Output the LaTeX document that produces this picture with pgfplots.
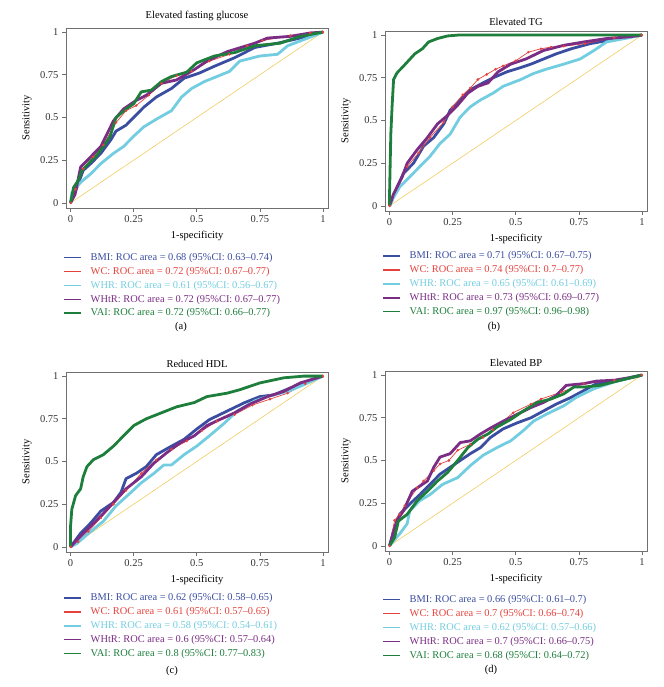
\documentclass[border=0pt]{standalone}
\usepackage{fontspec}
\setmainfont{Liberation Serif}
\usepackage{pgfplots}
\pgfplotsset{compat=1.18}

\definecolor{bmi}{HTML}{3B4DA0}
\definecolor{wc}{HTML}{E5423D}
\definecolor{whr}{HTML}{72CDE0}
\definecolor{whtr}{HTML}{7B2D85}
\definecolor{vai}{HTML}{1E7E3C}
\definecolor{refcol}{HTML}{F0CC60}
\definecolor{framecol}{HTML}{707070}

\tikzset{
  bmil/.style={color=bmi, line width=2.8pt, line join=round},
  wcl/.style={color=wc, line width=0.7pt},
  whrl/.style={color=whr, line width=2.8pt, line join=round},
  whtrl/.style={color=whtr, line width=2.8pt, line join=round},
  vail/.style={color=vai, line width=2.8pt, line join=round},
}

\pgfplotsset{
  every axis title shift=0pt,
  rocax/.style={
    width=262pt, height=180pt, scale only axis,
    xmin=-0.018, xmax=1.02, ymin=-0.03, ymax=1.024,
    xtick={0,0.25,0.5,0.75,1}, ytick={0,0.25,0.5,0.75,1},
    xtick pos=bottom, ytick pos=left, tick align=outside,
    major tick length=4pt,
    axis line style={framecol, line width=0.6pt},
    every tick/.style={framecol, line width=0.6pt},
    /pgf/number format/assume math mode=true,
    tick label style={font=\fontsize{10.5}{12}\selectfont, color=black!80},
    xlabel={1-specificity}, ylabel={Sensitivity},
    xlabel style={at={(axis description cs:0.5,0)}, anchor=base, yshift=-30pt, font=\fontsize{10.5}{12}\selectfont},
    ylabel style={at={(axis description cs:-0.149,0.5)}, anchor=center, font=\fontsize{10.5}{12}\selectfont},
    title style={at={(axis description cs:0.5,1)}, anchor=base, yshift=5pt, font=\fontsize{10.5}{12}\selectfont},
    legend style={draw=none, fill=none, anchor=north west, inner sep=0pt,
      font=\fontsize{10.4}{12}\selectfont, row sep=3.3pt,
      nodes={inner xsep=2pt, inner ysep=0pt, text height=8pt, text depth=2.6pt}},
    legend cell align=left,
    legend image code/.code={\draw[#1, line width=1.5pt] (0pt,0pt) -- (17pt,0pt); \path (23pt,0pt);},
  },
  wcmark/.style={mark=*, mark size=0.9pt, mark options={fill=wc, draw=wc}},
  refline/.style={refcol, line width=0.6pt, forget plot},
}

\begin{document}
\begin{tikzpicture}
\path[use as bounding box] (0pt,0pt) rectangle (663pt,-687pt);

% (a)
\begin{axis}[rocax, at={(66pt,-28pt)}, anchor=north west,
  title={Elevated fasting glucose}, title style={yshift=4.5pt},
  legend style={at={(axis description cs:-0.01,-0.245)}}]
\addplot[refline] coordinates {(0,0) (1,1)};
\addplot[bmil] coordinates {(0,0) (0.025,0.09) (0.05,0.19) (0.08,0.23) (0.12,0.29) (0.16,0.37) (0.18,0.42) (0.22,0.455) (0.25,0.50) (0.29,0.56) (0.34,0.62) (0.40,0.67) (0.45,0.73) (0.51,0.76) (0.57,0.80) (0.65,0.85) (0.73,0.91) (0.82,0.935) (0.91,0.965) (1,1)};
\addlegendentry{\textcolor{bmi}{BMI: ROC area = 0.68 (95\%CI: 0.63--0.74)}}
\addplot[wcl, wcmark] coordinates {(0,0) (0.02,0.08) (0.05,0.2) (0.09,0.27) (0.13,0.34) (0.18,0.47) (0.22,0.54) (0.26,0.57) (0.31,0.63) (0.36,0.70) (0.42,0.745) (0.48,0.77) (0.55,0.83) (0.63,0.87) (0.70,0.92) (0.76,0.95) (0.87,0.98) (0.95,0.995) (1,1)};
\addlegendentry{\textcolor{wc}{WC: ROC area = 0.72 (95\%CI: 0.67--0.77)}}
\addplot[whrl] coordinates {(0,0) (0.005,0.06) (0.04,0.12) (0.08,0.17) (0.12,0.23) (0.17,0.29) (0.21,0.33) (0.25,0.39) (0.29,0.445) (0.34,0.49) (0.40,0.54) (0.44,0.62) (0.48,0.67) (0.53,0.71) (0.58,0.74) (0.63,0.77) (0.67,0.83) (0.75,0.86) (0.82,0.87) (0.86,0.92) (0.94,0.965) (1,1)};
\addlegendentry{\textcolor{whr}{WHR: ROC area = 0.61 (95\%CI: 0.56--0.67)}}
\addplot[whtrl] coordinates {(0,0) (0.018,0.05) (0.04,0.21) (0.08,0.27) (0.12,0.33) (0.17,0.48) (0.21,0.55) (0.26,0.60) (0.30,0.63) (0.36,0.70) (0.42,0.72) (0.49,0.78) (0.54,0.83) (0.62,0.885) (0.73,0.935) (0.78,0.965) (0.87,0.975) (0.95,0.995) (1,1)};
\addlegendentry{\textcolor{whtr}{WHtR: ROC area = 0.72 (95\%CI: 0.67--0.77)}}
\addplot[vail] coordinates {(0,0) (0.012,0.09) (0.03,0.13) (0.045,0.19) (0.065,0.22) (0.105,0.28) (0.13,0.33) (0.157,0.39) (0.18,0.5) (0.22,0.55) (0.25,0.58) (0.28,0.65) (0.32,0.66) (0.36,0.71) (0.40,0.74) (0.46,0.765) (0.50,0.82) (0.57,0.86) (0.65,0.88) (0.73,0.92) (0.83,0.935) (0.91,0.975) (1,1)};
\addlegendentry{\textcolor{vai}{VAI: ROC area = 0.72 (95\%CI: 0.66--0.77)}}
\end{axis}

% (b)
\begin{axis}[rocax, at={(385pt,-31pt)}, anchor=north west,
  title={Elevated TG},
  legend style={at={(axis description cs:-0.01,-0.22)}}]
\addplot[refline] coordinates {(0,0) (1,1)};
\addplot[bmil] coordinates {(0,0) (0.03,0.11) (0.055,0.19) (0.095,0.25) (0.135,0.35) (0.175,0.40) (0.215,0.48) (0.24,0.56) (0.28,0.62) (0.32,0.68) (0.37,0.72) (0.41,0.75) (0.465,0.785) (0.52,0.81) (0.56,0.83) (0.61,0.86) (0.66,0.89) (0.72,0.92) (0.795,0.95) (0.89,0.975) (1,1)};
\addlegendentry{\textcolor{bmi}{BMI: ROC area = 0.71 (95\%CI: 0.67--0.75)}}
\addplot[wcl, wcmark] coordinates {(0,0) (0.07,0.23) (0.115,0.31) (0.16,0.40) (0.215,0.49) (0.25,0.58) (0.29,0.65) (0.32,0.69) (0.35,0.74) (0.385,0.77) (0.42,0.80) (0.45,0.82) (0.50,0.85) (0.55,0.90) (0.60,0.92) (0.64,0.93) (0.69,0.935) (0.775,0.95) (0.89,0.985) (1,1)};
\addlegendentry{\textcolor{wc}{WC: ROC area = 0.74 (95\%CI: 0.7--0.77)}}
\addplot[whrl] coordinates {(0,0) (0.016,0.05) (0.04,0.11) (0.08,0.17) (0.12,0.23) (0.16,0.29) (0.2,0.365) (0.24,0.42) (0.28,0.52) (0.32,0.58) (0.36,0.62) (0.41,0.66) (0.45,0.70) (0.52,0.74) (0.57,0.775) (0.62,0.80) (0.69,0.83) (0.755,0.86) (0.81,0.91) (0.86,0.96) (0.95,0.985) (1,1)};
\addlegendentry{\textcolor{whr}{WHR: ROC area = 0.65 (95\%CI: 0.61--0.69)}}
\addplot[whtrl] coordinates {(0,0) (0.016,0.07) (0.03,0.11) (0.05,0.17) (0.07,0.25) (0.11,0.33) (0.15,0.40) (0.19,0.48) (0.23,0.53) (0.27,0.59) (0.31,0.66) (0.35,0.70) (0.39,0.72) (0.43,0.785) (0.48,0.83) (0.54,0.86) (0.61,0.91) (0.69,0.94) (0.77,0.96) (0.86,0.98) (0.95,0.99) (1,1)};
\addlegendentry{\textcolor{whtr}{WHtR: ROC area = 0.73 (95\%CI: 0.69--0.77)}}
\addplot[vail] coordinates {(0,0) (0,0.07) (0.005,0.42) (0.01,0.58) (0.016,0.74) (0.03,0.78) (0.05,0.81) (0.075,0.85) (0.10,0.89) (0.13,0.92) (0.155,0.96) (0.19,0.98) (0.23,0.995) (0.27,1) (1,1)};
\addlegendentry{\textcolor{vai}{VAI: ROC area = 0.97 (95\%CI: 0.96--0.98)}}
\end{axis}

% (c)
\begin{axis}[rocax, at={(66pt,-372pt)}, anchor=north west,
  title={Reduced HDL},
  legend style={at={(axis description cs:-0.01,-0.225)}}]
\addplot[refline] coordinates {(0,0) (1,1)};
\addplot[bmil] coordinates {(0,0) (0.04,0.08) (0.08,0.14) (0.12,0.21) (0.17,0.26) (0.20,0.32) (0.22,0.40) (0.26,0.43) (0.30,0.47) (0.34,0.54) (0.40,0.59) (0.45,0.63) (0.50,0.69) (0.55,0.745) (0.62,0.795) (0.69,0.845) (0.75,0.88) (0.805,0.89) (0.87,0.93) (0.94,0.97) (1,1)};
\addlegendentry{\textcolor{bmi}{BMI: ROC area = 0.62 (95\%CI: 0.58--0.65)}}
\addplot[wcl, wcmark] coordinates {(0,0) (0.03,0.03) (0.07,0.09) (0.12,0.17) (0.17,0.25) (0.22,0.33) (0.28,0.43) (0.34,0.51) (0.40,0.57) (0.46,0.62) (0.52,0.68) (0.58,0.735) (0.65,0.775) (0.72,0.83) (0.79,0.865) (0.86,0.90) (0.93,0.955) (1,1)};
\addlegendentry{\textcolor{wc}{WC: ROC area = 0.61 (95\%CI: 0.57--0.65)}}
\addplot[whrl] coordinates {(0,0) (0.025,0.02) (0.08,0.09) (0.13,0.15) (0.18,0.24) (0.24,0.32) (0.28,0.375) (0.33,0.43) (0.37,0.48) (0.40,0.48) (0.45,0.54) (0.50,0.59) (0.55,0.65) (0.61,0.725) (0.66,0.795) (0.73,0.855) (0.79,0.885) (0.86,0.91) (0.925,0.95) (1,1)};
\addlegendentry{\textcolor{whr}{WHR: ROC area = 0.58 (95\%CI: 0.54--0.61)}}
\addplot[whtrl] coordinates {(0,0) (0.025,0.04) (0.065,0.10) (0.12,0.18) (0.17,0.26) (0.22,0.34) (0.28,0.41) (0.33,0.49) (0.38,0.55) (0.435,0.61) (0.49,0.65) (0.54,0.71) (0.59,0.745) (0.65,0.785) (0.71,0.835) (0.78,0.88) (0.845,0.91) (0.91,0.96) (1,1)};
\addlegendentry{\textcolor{whtr}{WHtR: ROC area = 0.6 (95\%CI: 0.57--0.64)}}
\addplot[vail] coordinates {(0,0) (0,0.12) (0.005,0.22) (0.02,0.30) (0.04,0.34) (0.05,0.41) (0.065,0.47) (0.09,0.51) (0.13,0.54) (0.17,0.59) (0.21,0.65) (0.25,0.71) (0.30,0.75) (0.36,0.785) (0.42,0.82) (0.49,0.845) (0.54,0.88) (0.62,0.90) (0.67,0.92) (0.75,0.96) (0.845,0.99) (0.925,1) (1,1)};
\addlegendentry{\textcolor{vai}{VAI: ROC area = 0.8 (95\%CI: 0.77--0.83)}}
\end{axis}

% (d)
\begin{axis}[rocax, at={(385pt,-371pt)}, anchor=north west,
  title={Elevated BP},
  legend style={at={(axis description cs:-0.01,-0.24)}}]
\addplot[refline] coordinates {(0,0) (1,1)};
\addplot[bmil] coordinates {(0,0) (0.016,0.09) (0.04,0.185) (0.08,0.245) (0.12,0.30) (0.16,0.36) (0.20,0.42) (0.24,0.46) (0.28,0.50) (0.32,0.54) (0.36,0.575) (0.40,0.635) (0.45,0.685) (0.505,0.72) (0.56,0.75) (0.61,0.79) (0.66,0.83) (0.72,0.87) (0.77,0.91) (0.82,0.95) (0.90,0.965) (1,1)};
\addlegendentry{\textcolor{bmi}{BMI: ROC area = 0.66 (95\%CI: 0.61--0.7)}}
\addplot[wcl, wcmark] coordinates {(0,0) (0.02,0.15) (0.04,0.185) (0.06,0.235) (0.11,0.34) (0.135,0.38) (0.175,0.44) (0.2,0.48) (0.235,0.50) (0.27,0.56) (0.32,0.595) (0.37,0.635) (0.41,0.68) (0.49,0.78) (0.56,0.83) (0.60,0.86) (0.68,0.90) (0.77,0.95) (0.89,0.97) (1,1)};
\addlegendentry{\textcolor{wc}{WC: ROC area = 0.7 (95\%CI: 0.66--0.74)}}
\addplot[whrl] coordinates {(0,0) (0.016,0.03) (0.04,0.07) (0.07,0.13) (0.08,0.205) (0.12,0.265) (0.16,0.30) (0.21,0.36) (0.27,0.40) (0.32,0.47) (0.37,0.53) (0.425,0.575) (0.48,0.615) (0.53,0.675) (0.57,0.73) (0.62,0.77) (0.69,0.82) (0.74,0.87) (0.81,0.92) (0.89,0.96) (0.95,0.985) (1,1)};
\addlegendentry{\textcolor{whr}{WHR: ROC area = 0.62 (95\%CI: 0.57--0.66)}}
\addplot[whtrl] coordinates {(0,0) (0.01,0.05) (0.03,0.15) (0.055,0.205) (0.09,0.32) (0.12,0.35) (0.15,0.38) (0.175,0.46) (0.20,0.52) (0.24,0.54) (0.28,0.605) (0.32,0.615) (0.36,0.655) (0.40,0.69) (0.45,0.73) (0.505,0.77) (0.56,0.81) (0.61,0.84) (0.66,0.88) (0.70,0.94) (0.77,0.95) (0.82,0.965) (0.89,0.97) (0.95,0.985) (1,1)};
\addlegendentry{\textcolor{whtr}{WHtR: ROC area = 0.7 (95\%CI: 0.66--0.75)}}
\addplot[vail] coordinates {(0,0) (0.02,0.05) (0.035,0.145) (0.07,0.185) (0.11,0.265) (0.15,0.32) (0.19,0.38) (0.23,0.43) (0.27,0.50) (0.31,0.575) (0.35,0.625) (0.39,0.655) (0.425,0.695) (0.48,0.74) (0.53,0.79) (0.585,0.84) (0.64,0.86) (0.69,0.89) (0.73,0.93) (0.77,0.93) (0.835,0.94) (0.915,0.97) (1,1)};
\addlegendentry{\textcolor{vai}{VAI: ROC area = 0.68 (95\%CI: 0.64--0.72)}}
\end{axis}

\node[font=\fontsize{10.5}{12}\selectfont] at (181pt,-327pt) {(a)};
\node[font=\fontsize{10.5}{12}\selectfont] at (494pt,-327pt) {(b)};
\node[font=\fontsize{10.5}{12}\selectfont] at (172pt,-671pt) {(c)};
\node[font=\fontsize{10.5}{12}\selectfont] at (491pt,-670pt) {(d)};
\end{tikzpicture}
\end{document}
